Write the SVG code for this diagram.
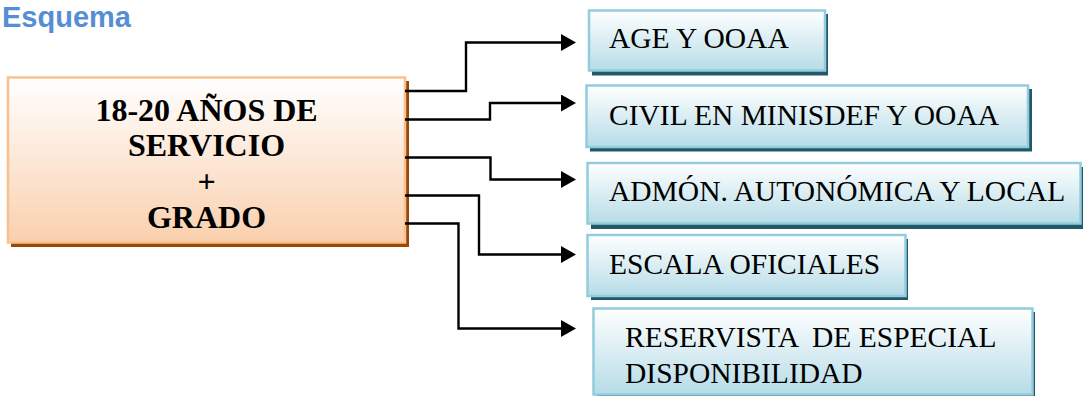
<svg xmlns="http://www.w3.org/2000/svg" width="1083" height="396" viewBox="0 0 1083 396">
<style>
.title{font-family:"Liberation Sans",Arial,sans-serif;font-weight:bold;font-size:29px;fill:#558ED5}
.main{font-family:"Liberation Serif","Times New Roman",serif;font-weight:bold;font-size:32px;fill:#000;text-anchor:middle}
.lbl{font-family:"Liberation Serif","Times New Roman",serif;font-size:29.5px;fill:#000;white-space:pre}
.mbox{fill:url(#gOrange);stroke:#FAC08F;stroke-width:2.5}
.mshadow{fill:#984807}
.bbox{fill:url(#gBlue);stroke:#93CDDD;stroke-width:2.5}
.bshadow{fill:#215968}
.conn{fill:none;stroke:#000;stroke-width:2.4;marker-end:url(#arr)}
</style>
<defs>
<linearGradient id="gOrange" x1="0" y1="0" x2="0" y2="1">
<stop offset="0" stop-color="#FFFFFF"/>
<stop offset="1" stop-color="#FAD0AE"/>
</linearGradient>
<linearGradient id="gBlue" x1="0" y1="0" x2="0" y2="1">
<stop offset="0" stop-color="#FFFFFF"/>
<stop offset="1" stop-color="#B6DCE7"/>
</linearGradient>
<marker id="arr" markerUnits="userSpaceOnUse" markerWidth="16" markerHeight="17" refX="9" refY="8.5" orient="auto" viewBox="0 0 16 17">
<path d="M0,0 L15,8.5 L0,17 Z" fill="#000"/>
</marker>
</defs>
<text class="title" x="2" y="27">Esquema</text>
<g id="main">
<rect class="mshadow" x="11" y="81" width="398" height="166"/>
<rect class="mbox" x="8" y="77.5" width="397" height="165"/>
<text class="main" x="206.5" y="121">18-20 AÑOS DE</text>
<text class="main" x="206.5" y="156">SERVICIO</text>
<text class="main" x="206.5" y="192">+</text>
<text class="main" x="206.5" y="228">GRADO</text>
</g>
<g id="connectors">
<polyline class="conn" points="405,91 466,91 466,42.5 570,42.5"/>
<polyline class="conn" points="405,119.5 490,119.5 490,103 570,103"/>
<polyline class="conn" points="405,157.5 490.5,157.5 490.5,179.5 570,179.5"/>
<polyline class="conn" points="405,195.5 479,195.5 479,254.5 570,254.5"/>
<polyline class="conn" points="405,223.5 458.5,223.5 458.5,328.5 570,328.5"/>
</g>
<g id="n1">
<rect class="bshadow" x="592" y="14" width="236" height="61.5"/>
<rect class="bbox" x="589" y="10.5" width="236" height="60"/>
<text class="lbl" x="609" y="48.3">AGE Y OOAA</text>
</g>
<g id="n2">
<rect class="bshadow" x="590" y="89" width="442" height="62.5"/>
<rect class="bbox" x="586.5" y="85.5" width="441.5" height="61.5"/>
<text class="lbl" x="609" y="124.5">CIVIL EN MINISDEF Y OOAA</text>
</g>
<g id="n3">
<rect class="bshadow" x="591" y="167" width="492" height="62"/>
<rect class="bbox" x="587.5" y="163" width="493" height="60.5"/>
<text class="lbl" x="609" y="200.7">ADMÓN. AUTONÓMICA Y LOCAL</text>
</g>
<g id="n4">
<rect class="bshadow" x="591" y="239" width="317" height="61"/>
<rect class="bbox" x="587.5" y="235" width="318" height="61"/>
<text class="lbl" x="609" y="273.5">ESCALA OFICIALES</text>
</g>
<g id="n5">
<rect class="bshadow" x="597" y="312" width="438" height="90"/>
<rect class="bbox" x="593.5" y="308.5" width="439" height="86"/>
<text class="lbl" x="625" y="346.7">RESERVISTA  DE ESPECIAL</text>
<text class="lbl" x="625" y="383.3">DISPONIBILIDAD</text>
</g>
</svg>
